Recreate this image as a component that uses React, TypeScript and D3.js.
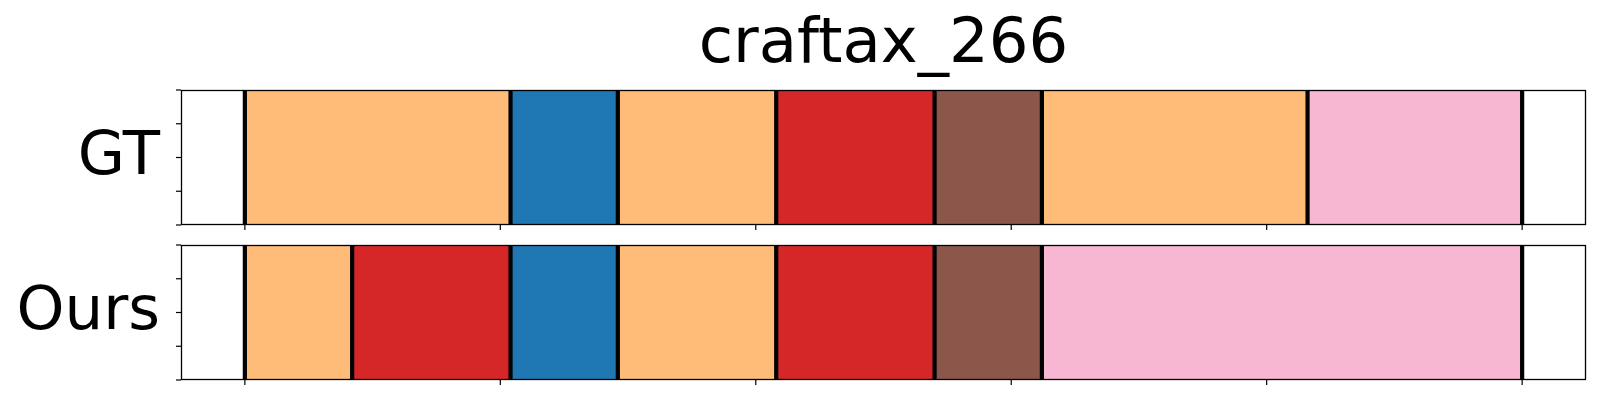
import React from "react";
import * as d3 from "d3";

const title = "craftax_266";
const rowLabels = ["GT", "Ours"];

// tab20 palette
const tab20 = [
  "#1f77b4", "#aec7e8", "#ff7f0e", "#ffbb78", "#2ca02c", "#98df8a",
  "#d62728", "#ff9896", "#9467bd", "#c5b0d5", "#8c564b", "#c49c94",
  "#e377c2", "#f7b6d2", "#7f7f7f", "#c7c7c7", "#bcbd22", "#dbdb8d",
  "#17becf", "#9edae5",
];

const gtBounds = [0, 52, 73, 104, 135, 156, 208, 250];
const gtClasses = [3, 0, 3, 6, 10, 3, 13];
const oursBounds = [0, 21, 52, 73, 104, 135, 156, 250];
const oursClasses = [3, 6, 0, 3, 6, 10, 13];

const xTicks = [0, 50, 100, 150, 200, 250];
const yTicks = [0, 0.25, 0.5, 0.75, 1];

const rows = [
  { label: rowLabels[0], bounds: gtBounds, classes: gtClasses },
  { label: rowLabels[1], bounds: oursBounds, classes: oursClasses },
];

export default function App() {
  const W = 1600;
  const H = 400;
  const left = 181;
  const right = 1586;
  const panelTops = [90, 245];
  const panelH = 135;
  const x = d3.scaleLinear().domain([-12.5, 262.5]).range([left, right]);
  const font = "'DejaVu Sans', sans-serif";

  return (
    <div style={{ position: "absolute", left: 0, top: 0 }}>
      <svg width={W} height={H} style={{ display: "block", background: "#fff" }}>
        <text
          x={(left + right) / 2}
          y={62}
          textAnchor="middle"
          fontFamily={font}
          fontSize={62.5}
          fill="#000"
        >
          {title}
        </text>
        {rows.map((row, ri) => {
          const top = panelTops[ri];
          const y = d3.scaleLinear().domain([0, 1]).range([top + panelH, top]);
          const segs = row.classes.map((c, i) => ({
            x0: row.bounds[i],
            x1: row.bounds[i + 1],
            color: tab20[c],
          }));
          return (
            <g key={ri}>
              {segs.map((s, i) => (
                <rect
                  key={i}
                  x={x(s.x0)}
                  y={y(1)}
                  width={x(s.x1) - x(s.x0)}
                  height={y(0) - y(1)}
                  fill={s.color}
                />
              ))}
              {row.bounds.map((b, i) => (
                <line
                  key={"b" + i}
                  x1={x(b)}
                  x2={x(b)}
                  y1={y(1)}
                  y2={y(0)}
                  stroke="#000"
                  strokeWidth={4.2}
                />
              ))}
              <rect
                x={left + 0.5}
                y={top + 0.5}
                width={right - left - 1}
                height={panelH - 1}
                fill="none"
                stroke="#000"
                strokeWidth={1.3}
              />
              {xTicks.map((t) => (
                <line
                  key={"xt" + t}
                  x1={x(t)}
                  x2={x(t)}
                  y1={top + panelH}
                  y2={top + panelH + 5}
                  stroke="#000"
                  strokeWidth={1.2}
                />
              ))}
              {yTicks.map((t) => (
                <line
                  key={"yt" + t}
                  x1={left - 5}
                  x2={left}
                  y1={y(t)}
                  y2={y(t)}
                  stroke="#000"
                  strokeWidth={1.2}
                />
              ))}
              <text
                x={160}
                y={top + panelH / 2 + 16.5}
                textAnchor="end"
                fontFamily={font}
                fontSize={61}
                fill="#000"
              >
                {row.label}
              </text>
            </g>
          );
        })}
      </svg>
    </div>
  );
}
